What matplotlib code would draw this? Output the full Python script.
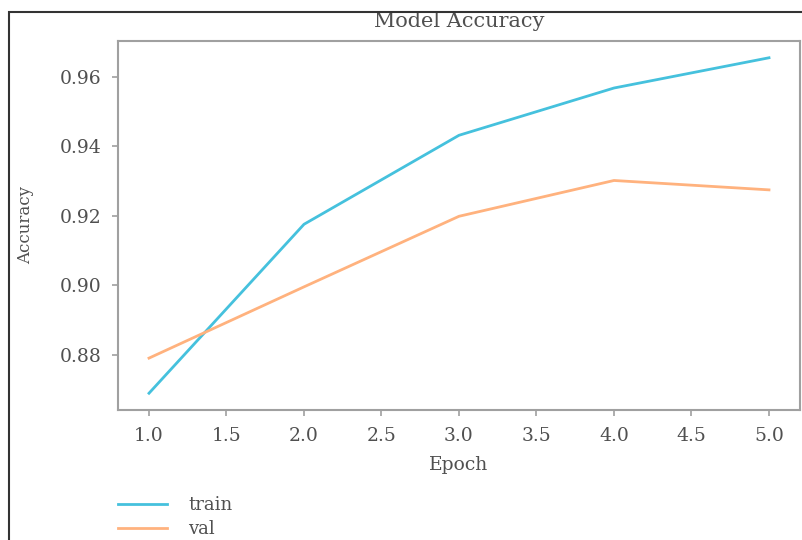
import numpy as np
import matplotlib
matplotlib.use('Agg')
import matplotlib.pyplot as plt
from matplotlib.patches import Rectangle

epochs = [1, 2, 3, 4, 5]
train_acc = [0.8690, 0.9176, 0.9432, 0.9568, 0.9655]
val_acc = [0.8791, 0.8996, 0.9199, 0.9302, 0.9275]

text_col = '#505050'
matplotlib.rc('font', family='DejaVu Serif', size=13)
matplotlib.rc('text', color=text_col)
matplotlib.rc('axes', labelcolor=text_col, edgecolor='#a0a0a0', linewidth=1.5)
matplotlib.rc('xtick', color='#a0a0a0', labelcolor=text_col)
matplotlib.rc('ytick', color='#a0a0a0', labelcolor=text_col)

fig = plt.figure(figsize=(8.03, 5.40), dpi=100)
ax = fig.add_axes([118/803, 130/540, 682/803, 369/540])

ax.plot(epochs, train_acc, color='#45c1dd', lw=2, label='train')
ax.plot(epochs, val_acc, color='#ffb27e', lw=2, label='val')

ax.set_title('Model Accuracy', fontsize=15, pad=10)
ax.set_xlabel('Epoch', fontsize=13.5, labelpad=8)
ax.set_ylabel('Accuracy', fontsize=12, labelpad=18)
ax.set_yticks([0.88, 0.90, 0.92, 0.94, 0.96])
ax.yaxis.set_major_formatter(matplotlib.ticker.FormatStrFormatter('%.2f'))
ax.xaxis.set_major_formatter(matplotlib.ticker.FormatStrFormatter('%.1f'))
ax.tick_params(length=4, width=1.2, pad=8, labelsize=13.5)

fig.legend(loc='upper left', bbox_to_anchor=(118/803, 1 - 496/540), frameon=False,
           fontsize=13, handlelength=2.7, handletextpad=1.2, labelspacing=0.35,
           borderpad=0, borderaxespad=0)

# outer frame of the screenshot
fig.add_artist(Rectangle((9/803, -0.2), 1.2, 1.2 - 12/540, transform=fig.transFigure,
                         fill=False, edgecolor='#333333', lw=1.5))

plt.savefig('out.png', dpi=100)
